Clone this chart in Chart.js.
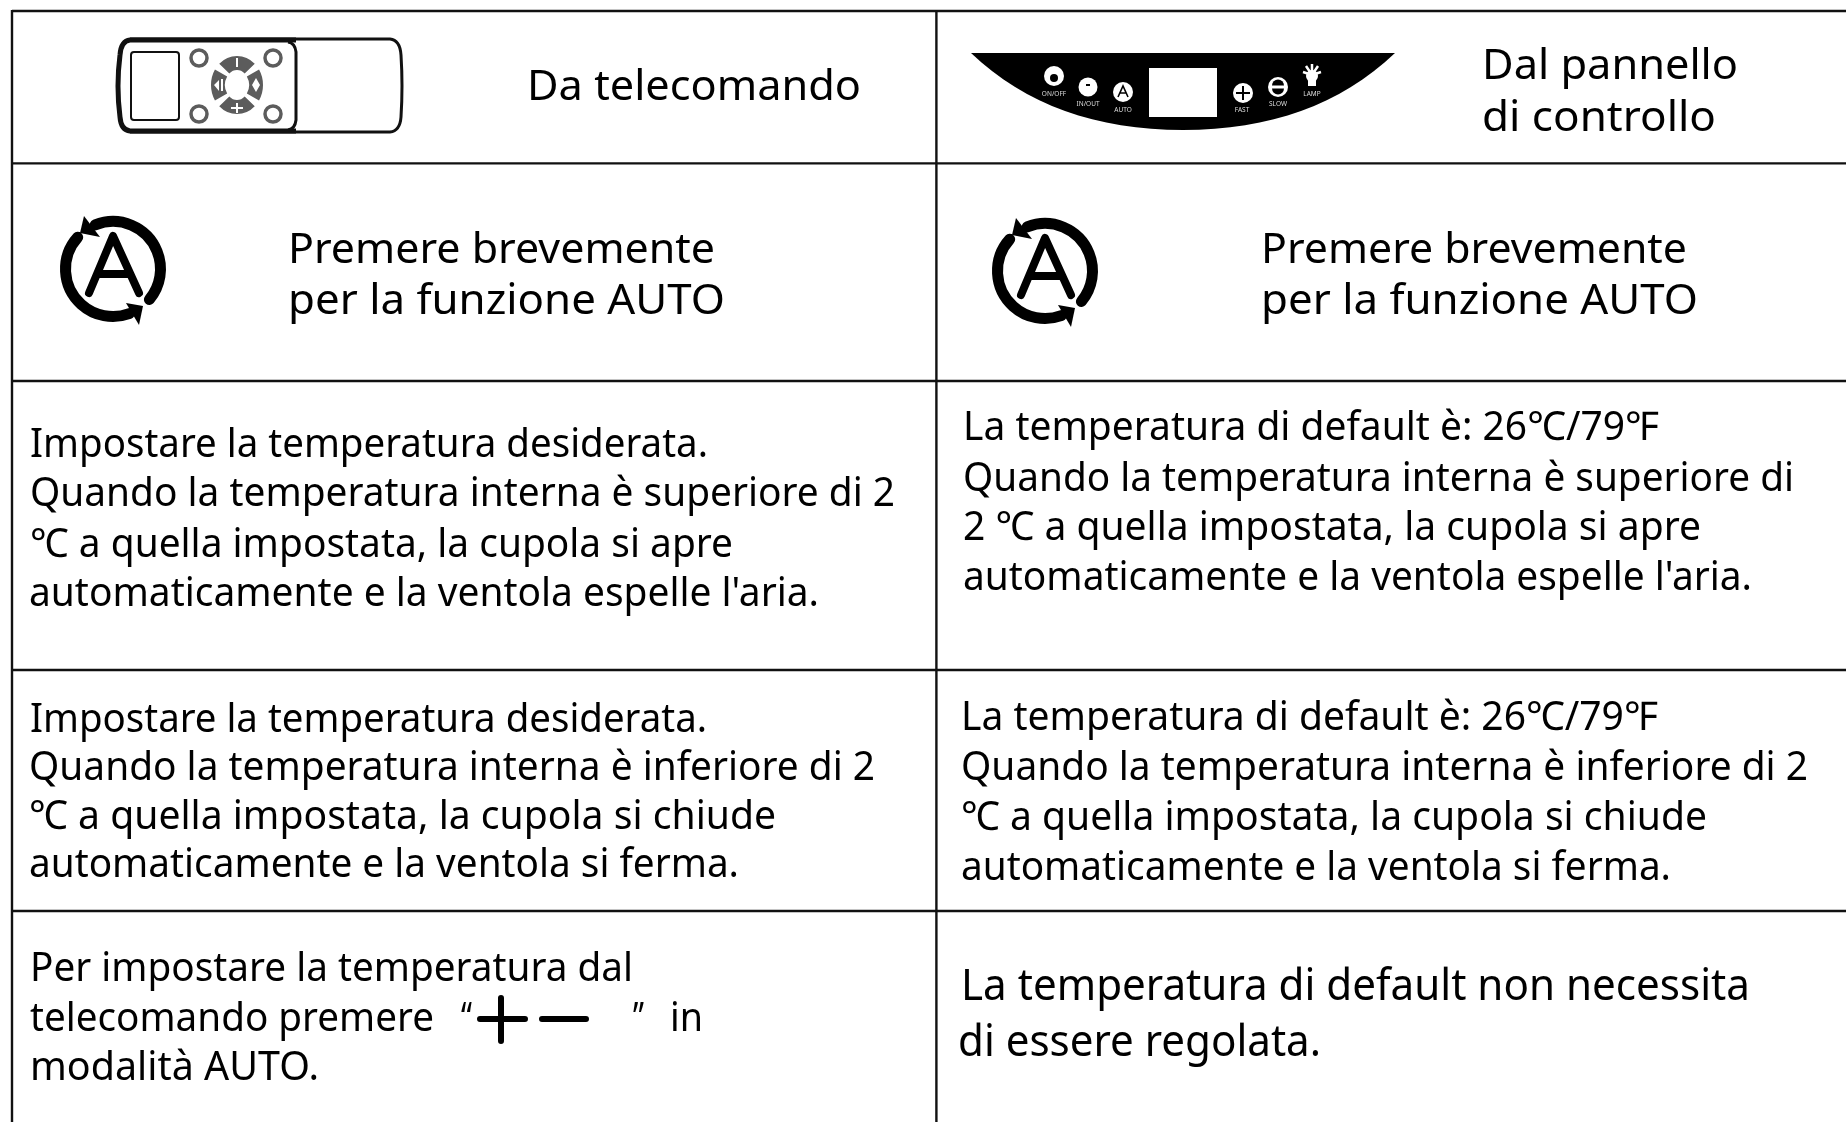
<!DOCTYPE html>
<html lang="it">
<head>
<meta charset="utf-8">
<title>Funzione AUTO</title>
<script src="https://cdn.jsdelivr.net/npm/chart.js@4"></script>
<style>
  html, body { margin: 0; padding: 0; background: #fff; overflow: hidden; }
  canvas { display: block; }
</style>
</head>
<body>
<canvas id="chart" width="1846" height="1122"></canvas>
<script>
// Table rules
const columnRule = 936.4;
const rowRules = [11, 163.4, 381, 670, 911];
const leftRule = 12;

// Text of the cells, line by line
const headerLeft = ['Da telecomando'];
const headerRight = ['Dal pannello', 'di controllo'];
const autoLeft = ['Premere brevemente', 'per la funzione AUTO'];
const autoRight = ['Premere brevemente', 'per la funzione AUTO'];
const upLeft = ['Impostare la temperatura desiderata.', 'Quando la temperatura interna è superiore di 2', '℃ a quella impostata, la cupola si apre', "automaticamente e la ventola espelle l'aria."];
const upRight = ['La temperatura di default è: 26℃/79℉', 'Quando la temperatura interna è superiore di', '2 ℃ a quella impostata, la cupola si apre', "automaticamente e la ventola espelle l'aria."];
const downLeft = ['Impostare la temperatura desiderata.', 'Quando la temperatura interna è inferiore di 2', '℃ a quella impostata, la cupola si chiude', 'automaticamente e la ventola si ferma.'];
const downRight = ['La temperatura di default è: 26℃/79℉', 'Quando la temperatura interna è inferiore di 2', '℃ a quella impostata, la cupola si chiude', 'automaticamente e la ventola si ferma.'];
const setLeft = ['Per impostare la temperatura dal', 'telecomando premere', '“', '”', 'in', 'modalità AUTO.'];
const setRight = ['La temperatura di default non necessita', 'di essere regolata.'];
const panelLabels = ['ON/OFF', 'IN/OUT', 'AUTO', 'FAST', 'SLOW', 'LAMP'];

// Where each line sits: left edge, baseline, right edge, font size
const headerLeftAt = [[527, 100, 861, 42]];
const headerRightAt = [[1482, 79, 1738, 42], [1482, 131, 1716, 42]];
const autoLeftAt = [[288, 263, 715, 42], [288, 314, 725, 42]];
const autoRightAt = [[1261, 263, 1687, 42], [1261, 314, 1698, 42]];
const upLeftAt = [[30, 457, 708, 40], [30, 506, 895, 40], [30, 557, 733, 40], [29, 606, 819, 40]];
const upRightAt = [[963, 440, 1659, 40], [963, 491, 1794, 40], [963, 540, 1701, 40], [963, 590, 1752, 40]];
const downLeftAt = [[30, 732, 707, 40], [29, 780, 875, 40], [29, 829, 776, 40], [29, 877, 739, 40]];
const downRightAt = [[961, 730, 1658, 40], [961, 780, 1808, 40], [961, 830, 1707, 40], [961, 880, 1671, 40]];
const setLeftAt = [[30, 981, 633, 40], [30, 1031, 434, 40], [461, 1031, 472, 40], [633, 1031, 644, 40], [670, 1031, 703, 40], [30, 1080, 319, 40]];
const setRightAt = [[961, 1000, 1750, 44], [958, 1056, 1321, 44]];

const textBlocks = [
  [headerLeft, headerLeftAt], [headerRight, headerRightAt],
  [autoLeft, autoLeftAt], [autoRight, autoRightAt],
  [upLeft, upLeftAt], [upRight, upRightAt],
  [downLeft, downLeftAt], [downRight, downRightAt],
  [setLeft, setLeftAt], [setRight, setRightAt]
];

const FONT = '"Noto Sans", "Open Sans", sans-serif';

// Grid rules as line datasets, so they go through the scales
function ruleDataset(points) {
  return { data: points, showLine: true, borderColor: '#111', borderWidth: 2.4, pointRadius: 0, fill: false };
}
const datasets = [
  ruleDataset([{ x: leftRule, y: rowRules[0] - 1 }, { x: leftRule, y: 1122 }]),
  ruleDataset([{ x: columnRule, y: rowRules[0] }, { x: columnRule, y: 1122 }])
];
rowRules.forEach(y => datasets.push(ruleDataset([{ x: leftRule, y }, { x: 1846, y }])));

// Text lines, fitted to the width they have in the table
function drawLine(ctx, px, py, text, at) {
  const [x0, base, x1, size] = at;
  ctx.font = size + 'px ' + FONT;
  const natural = ctx.measureText(text).width;
  const left = px(x0);
  ctx.save();
  ctx.translate(left, py(base));
  ctx.scale((px(x1) - left) / natural, 1);
  ctx.fillText(text, 0, 0);
  ctx.restore();
}

// Recycling "A" symbol
function drawAutoIcon(ctx, cx, cy) {
  const rad = d => d * Math.PI / 180;
  ctx.strokeStyle = '#000';
  ctx.fillStyle = '#000';
  ctx.lineCap = 'round';
  ctx.lineJoin = 'round';
  ctx.lineWidth = 11;
  ctx.beginPath();
  ctx.arc(cx, cy + 1, 47.5, rad(-112), rad(40));
  ctx.stroke();
  ctx.beginPath();
  ctx.arc(cx, cy + 1, 47.5, rad(-138), rad(70), true);
  ctx.stroke();
  // arrow heads
  ctx.beginPath();
  ctx.moveTo(cx - 29, cy - 52);
  ctx.lineTo(cx - 33, cy - 35);
  ctx.lineTo(cx - 13, cy - 31);
  ctx.closePath();
  ctx.fill();
  ctx.beginPath();
  ctx.moveTo(cx + 13, cy + 35);
  ctx.lineTo(cx + 30, cy + 38);
  ctx.lineTo(cx + 26, cy + 57);
  ctx.closePath();
  ctx.fill();
  // letter
  ctx.lineWidth = 8;
  ctx.beginPath();
  ctx.moveTo(cx - 24, cy + 25);
  ctx.lineTo(cx, cy - 32);
  ctx.lineTo(cx + 26, cy + 25);
  ctx.moveTo(cx - 13, cy + 6);
  ctx.lineTo(cx + 14, cy + 6);
  ctx.stroke();
}

// Remote control drawing
function drawRemote(ctx, px, py) {
  ctx.strokeStyle = '#111';
  ctx.lineCap = 'butt';
  ctx.lineWidth = 3;
  ctx.beginPath();
  ctx.moveTo(px(130), py(39));
  ctx.lineTo(px(390), py(39));
  ctx.quadraticCurveTo(px(400), py(40), px(401), py(55));
  ctx.quadraticCurveTo(px(403), py(86), px(401), py(117));
  ctx.quadraticCurveTo(px(400), py(131), px(390), py(132));
  ctx.lineTo(px(130), py(132));
  ctx.stroke();
  // heavier outline round the buttons end
  ctx.lineWidth = 5;
  ctx.beginPath();
  ctx.moveTo(px(296), py(40));
  ctx.lineTo(px(130), py(40));
  ctx.quadraticCurveTo(px(121), py(41), px(120), py(55));
  ctx.quadraticCurveTo(px(116), py(86), px(120), py(117));
  ctx.quadraticCurveTo(px(121), py(130), px(130), py(131));
  ctx.lineTo(px(296), py(131));
  ctx.stroke();
  // face plate
  ctx.lineWidth = 3;
  ctx.beginPath();
  ctx.moveTo(px(288), py(42));
  ctx.quadraticCurveTo(px(295), py(43), px(296), py(52));
  ctx.lineTo(px(296), py(120));
  ctx.quadraticCurveTo(px(295), py(129), px(288), py(130));
  ctx.stroke();
  // screen
  ctx.lineWidth = 2;
  ctx.beginPath();
  ctx.roundRect(px(131), py(52), 48, 68, 3);
  ctx.stroke();
  // corner buttons
  ctx.strokeStyle = '#5c5c5c';
  ctx.lineWidth = 3.5;
  [[199, 58], [273, 58], [199, 114], [273, 114]].forEach(([x, y]) => {
    ctx.beginPath();
    ctx.arc(px(x), py(y), 8, 0, Math.PI * 2);
    ctx.stroke();
  });
  // direction pad
  const cx = px(237), cy = py(85);
  ctx.lineWidth = 14;
  [[-132, -48], [-33, 33], [48, 132], [147, 213]].forEach(([a, b]) => {
    ctx.beginPath();
    ctx.ellipse(cx, cy, 19, 22, 0, a * Math.PI / 180, b * Math.PI / 180);
    ctx.stroke();
  });
  ctx.strokeStyle = '#fff';
  ctx.fillStyle = '#fff';
  ctx.lineWidth = 2;
  ctx.beginPath();
  ctx.moveTo(cx, cy - 27);
  ctx.lineTo(cx, cy - 18);
  ctx.moveTo(cx - 6, cy + 23);
  ctx.lineTo(cx + 6, cy + 23);
  ctx.moveTo(cx, cy + 18);
  ctx.lineTo(cx, cy + 28);
  ctx.moveTo(cx - 15, cy - 6);
  ctx.lineTo(cx - 15, cy + 6);
  ctx.stroke();
  ctx.beginPath();
  ctx.moveTo(cx - 18, cy - 5);
  ctx.lineTo(cx - 18, cy + 6);
  ctx.lineTo(cx - 23, cy);
  ctx.closePath();
  ctx.moveTo(cx + 19, cy - 7);
  ctx.lineTo(cx + 23, cy);
  ctx.lineTo(cx + 19, cy + 7);
  ctx.lineTo(cx + 15, cy);
  ctx.closePath();
  ctx.fill();
}

// Control panel drawing
function drawPanel(ctx, px, py) {
  ctx.fillStyle = '#000';
  ctx.beginPath();
  ctx.moveTo(px(971), py(53));
  ctx.lineTo(px(1395), py(53));
  ctx.bezierCurveTo(px(1340), py(105), px(1270), py(130), px(1183), py(130));
  ctx.bezierCurveTo(px(1096), py(130), px(1026), py(105), px(971), py(53));
  ctx.fill();
  ctx.fillStyle = '#fff';
  ctx.fillRect(px(1149), py(68), 68, 49);
  const buttons = [[1054, 76, 10], [1088, 87, 9.5], [1123, 92, 10], [1243, 93, 10], [1278, 87, 10], [1312, 76, 6]];
  buttons.forEach(([x, y, r]) => {
    ctx.beginPath();
    ctx.arc(px(x), py(y), r, 0, Math.PI * 2);
    ctx.fill();
  });
  // lamp rays and stem
  ctx.strokeStyle = '#fff';
  ctx.lineWidth = 2.5;
  ctx.beginPath();
  [[-9, -3], [-6, -9], [0, -11], [6, -9], [9, -3]].forEach(([dx, dy]) => {
    ctx.moveTo(px(1312), py(75));
    ctx.lineTo(px(1312 + dx), py(75 + dy));
  });
  ctx.stroke();
  ctx.fillRect(px(1308), py(80), 8, 6);
  // marks on the buttons
  ctx.fillStyle = '#000';
  ctx.beginPath();
  ctx.arc(px(1054), py(78), 4, 0, Math.PI * 2);
  ctx.fill();
  ctx.strokeStyle = '#000';
  ctx.lineWidth = 2;
  ctx.beginPath();
  ctx.moveTo(px(1236), py(93));
  ctx.lineTo(px(1250), py(93));
  ctx.moveTo(px(1243), py(86));
  ctx.lineTo(px(1243), py(100));
  ctx.moveTo(px(1086), py(85));
  ctx.lineTo(px(1090), py(85));
  ctx.stroke();
  // little A on the AUTO button
  ctx.lineWidth = 1.6;
  ctx.beginPath();
  ctx.moveTo(px(1118), py(97));
  ctx.lineTo(px(1123), py(86));
  ctx.lineTo(px(1128), py(97));
  ctx.moveTo(px(1120), py(93));
  ctx.lineTo(px(1126), py(93));
  ctx.stroke();
  // two black halves on the SLOW button
  ctx.beginPath();
  ctx.arc(px(1278), py(85.5), 6, Math.PI, 0);
  ctx.closePath();
  ctx.fill();
  ctx.beginPath();
  ctx.arc(px(1278), py(88.5), 6, 0, Math.PI);
  ctx.closePath();
  ctx.fill();
  // labels
  const labelSpots = [[1054, 96], [1088, 106], [1123, 112], [1242, 112], [1278, 106], [1312, 96]];
  ctx.fillStyle = '#ddd';
  ctx.font = '6.5px ' + FONT;
  ctx.textAlign = 'center';
  panelLabels.forEach((label, i) => {
    ctx.fillText(label, px(labelSpots[i][0]), py(labelSpots[i][1]));
  });
  ctx.textAlign = 'left';
}

// The big + and - between the quotes
function drawPlusMinus(ctx, px, py) {
  ctx.strokeStyle = '#000';
  ctx.lineCap = 'round';
  ctx.lineWidth = 6;
  ctx.beginPath();
  ctx.moveTo(px(480), py(1019));
  ctx.lineTo(px(525), py(1019));
  ctx.moveTo(px(501), py(998));
  ctx.lineTo(px(501), py(1041));
  ctx.moveTo(px(542), py(1019));
  ctx.lineTo(px(586), py(1019));
  ctx.stroke();
}

const tablePlugin = {
  id: 'tableCells',
  afterDatasetsDraw(chart) {
    const ctx = chart.ctx;
    const px = v => chart.scales.x.getPixelForValue(v);
    const py = v => chart.scales.y.getPixelForValue(v);
    ctx.save();
    ctx.fillStyle = '#000';
    ctx.textBaseline = 'alphabetic';
    textBlocks.forEach(([lines, places]) => {
      lines.forEach((text, i) => drawLine(ctx, px, py, text, places[i]));
    });
    drawRemote(ctx, px, py);
    drawPanel(ctx, px, py);
    drawAutoIcon(ctx, px(113), py(268));
    drawAutoIcon(ctx, px(1045), py(270));
    drawPlusMinus(ctx, px, py);
    ctx.restore();
  }
};

new Chart(document.getElementById('chart'), {
  type: 'scatter',
  data: { datasets },
  options: {
    responsive: false,
    animation: false,
    layout: { padding: 0 },
    plugins: { legend: { display: false }, tooltip: { enabled: false } },
    scales: {
      x: { type: 'linear', min: 0, max: 1846, display: false },
      y: { type: 'linear', min: 0, max: 1122, reverse: true, display: false }
    }
  },
  plugins: [tablePlugin]
});
</script>
</body>
</html>
